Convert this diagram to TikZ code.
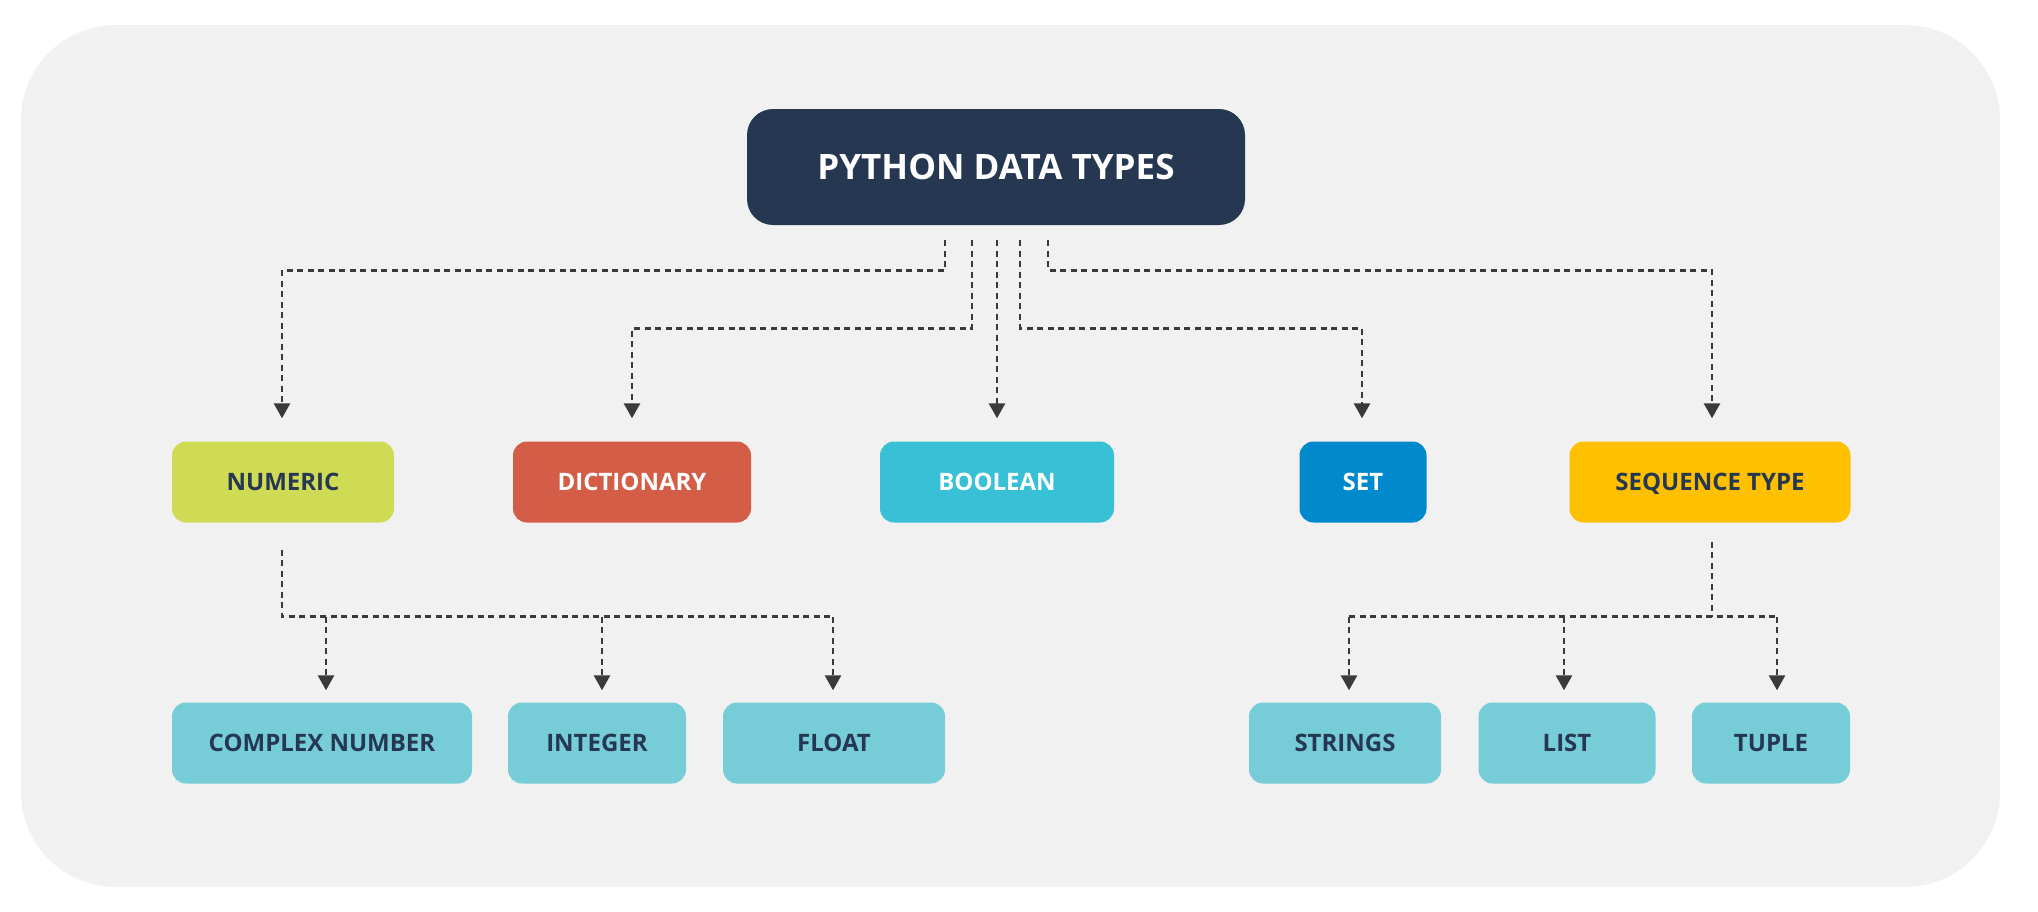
\documentclass[tikz,border=0pt]{standalone}
\usepackage{fontspec}
\setmainfont{Open Sans}
\usetikzlibrary{arrows.meta,calc}
\definecolor{bgc}{HTML}{F1F1F1}
\definecolor{navy}{HTML}{263752}
\definecolor{limec}{HTML}{D0DB55}
\definecolor{redc}{HTML}{D45D47}
\definecolor{boolc}{HTML}{38C0D6}
\definecolor{setc}{HTML}{0089CC}
\definecolor{yelc}{HTML}{FFC000}
\definecolor{tealc}{HTML}{77CDD7}
\definecolor{linec}{HTML}{3A3A3A}
\tikzset{
  box/.style={rectangle, rounded corners=14pt, inner sep=0pt, minimum height=81pt,
    font=\fontsize{24}{24}\selectfont\bfseries, text height=17.5pt, text depth=0pt, align=center},
  dl/.style={draw=linec, line width=2.8pt, dash pattern=on 6pt off 4.5pt},
  arr/.style={-{Triangle[width=16pt,length=15pt]}},
}
\begin{document}
\begin{tikzpicture}[x=1pt,y=-1pt]
\useasboundingbox (0,0) rectangle (2038,911);
\fill[bgc, rounded corners=95pt] (21,25) rectangle (2000,887);

\node[rectangle, rounded corners=26pt, fill=navy, text=white, inner sep=0pt,
  minimum width=498pt, minimum height=116pt,
  font=\fontsize{35}{35}\selectfont\bfseries, text height=25pt, text depth=0pt] (top) at (996,167) {PYTHON DATA TYPES};

\node[box, fill=limec, text=navy, minimum width=222pt] (num) at (283,482) {NUMERIC};
\node[box, fill=redc, text=white, minimum width=238pt] (dict) at (632,482) {DICTIONARY};
\node[box, fill=boolc, text=white, minimum width=234pt] (bool) at (997,482) {BOOLEAN};
\node[box, fill=setc, text=white, minimum width=127pt] (set) at (1363,482) {SET};
\node[box, fill=yelc, text=navy, minimum width=281pt] (seq) at (1710,482) {SEQUENCE TYPE};

\node[box, fill=tealc, text=navy, minimum width=300pt] (cplx) at (322,743) {COMPLEX NUMBER};
\node[box, fill=tealc, text=navy, minimum width=178pt] (int) at (597,743) {INTEGER};
\node[box, fill=tealc, text=navy, minimum width=222pt] (flt) at (834,743) {FLOAT};
\node[box, fill=tealc, text=navy, minimum width=192pt] (str) at (1345,743) {STRINGS};
\node[box, fill=tealc, text=navy, minimum width=177pt] (lst) at (1567,743) {LIST};
\node[box, fill=tealc, text=navy, minimum width=158pt] (tup) at (1771,743) {TUPLE};

% top level connectors
\draw[dl,arr] ($(top.south)+(-51,15)$) -- ++(0,30) -| ($(num.north)+(-1,-23)$);
\draw[dl,arr] ($(top.south)+(-24,15)$) -- ++(0,88) -| ($(dict.north)+(0,-23)$);
\draw[dl,arr] ($(top.south)+(1,15)$) -- ($(bool.north)+(0,-23)$);
\draw[dl,arr] ($(top.south)+(24,15)$) -- ++(0,88) -| ($(set.north)+(-1,-23)$);
\draw[dl,arr] ($(top.south)+(52,15)$) -- ++(0,30) -| ($(seq.north)+(2,-23)$);

% numeric subtree
\coordinate (nbar) at ($(num.south)+(-1,94)$);
\draw[dl] ($(num.south)+(-1,27)$) -- (nbar) -- ($(flt.north |- nbar)$);
\draw[dl,arr] ($(cplx.north |- nbar)+(4,0)$) -- ($(cplx.north)+(4,-12)$);
\draw[dl,arr] ($(int.north |- nbar)+(5,0)$) -- ($(int.north)+(5,-12)$);
\draw[dl,arr] ($(flt.north |- nbar)+(-1,0)$) -- ($(flt.north)+(-1,-12)$);

% sequence subtree
\coordinate (sbar) at ($(seq.south)+(2,94)$);
\draw[dl] ($(seq.south)+(2,19)$) -- (sbar);
\draw[dl] ($(str.north |- sbar)+(4,0)$) -- ($(tup.north |- sbar)+(6,0)$);
\draw[dl,arr] ($(str.north |- sbar)+(4,0)$) -- ($(str.north)+(4,-12)$);
\draw[dl,arr] ($(lst.north |- sbar)+(-3,0)$) -- ($(lst.north)+(-3,-12)$);
\draw[dl,arr] ($(tup.north |- sbar)+(6,0)$) -- ($(tup.north)+(6,-12)$);
\end{tikzpicture}
\end{document}
